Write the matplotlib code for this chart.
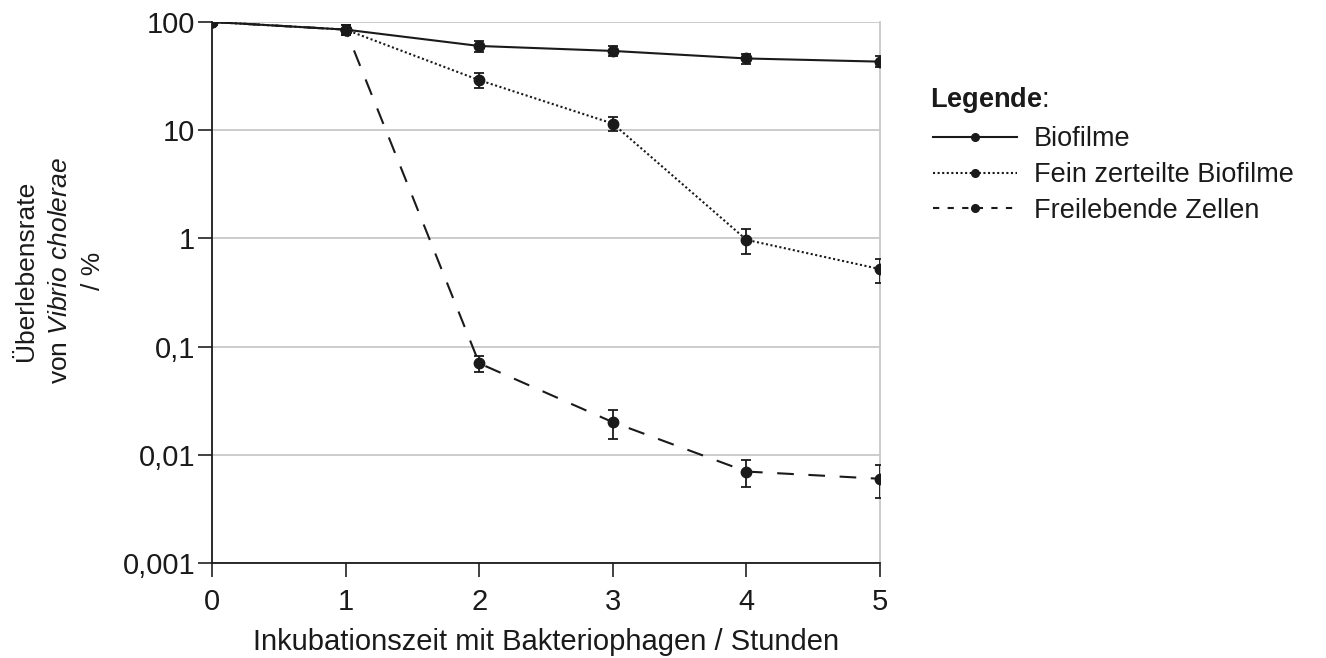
import matplotlib
matplotlib.use("Agg")
import matplotlib.pyplot as plt
from matplotlib.lines import Line2D

plt.rcParams['font.family'] = ['Liberation Sans', 'DejaVu Sans']
plt.rcParams['mathtext.fontset'] = 'custom'
plt.rcParams['mathtext.rm'] = 'Liberation Sans'
plt.rcParams['mathtext.it'] = 'Liberation Sans:italic'
plt.rcParams['mathtext.bf'] = 'Liberation Sans:bold'

# data
stunden = [0, 1, 2, 3, 4, 5]
biofilme = [100, 85, 60, 54, 46, 43]
biofilme_err = [0, 9, 7, 6, 5, 5]
fein = [100, 85, 29, 11.5, 0.97, 0.52]
fein_err = [0, 9, 4.5, 1.6, 0.25, 0.13]
frei = [100, 85, 0.07, 0.02, 0.007, 0.006]
frei_err = [0, 9, 0.012, 0.006, 0.002, 0.002]

y_ticks = [0.001, 0.01, 0.1, 1, 10, 100]
y_labels = ["0,001", "0,01", "0,1", "1", "10", "100"]

dunkel = '#1a1a1a'

fig = plt.figure(figsize=(13.26, 6.58), dpi=100)
ax = fig.add_axes([0.1599, 0.1444, 0.5038, 0.8222])

stil = dict(color=dunkel, marker='o', markersize=7.5, capsize=3.5,
            elinewidth=1.3, capthick=1.3, linewidth=1.5)
ax.errorbar(stunden, biofilme, yerr=biofilme_err, linestyle='-', zorder=4, **stil)
ax.errorbar(stunden, fein, yerr=fein_err, linestyle=(0, (1, 1.2)), zorder=3, **stil)
ax.errorbar(stunden, frei, yerr=frei_err, linestyle=(0, (8, 7)), zorder=3, **stil)

ax.set_yscale('log')
ax.set_ylim(0.001, 100)
ax.set_xlim(0, 5)
ax.set_yticks(y_ticks)
ax.set_yticklabels(y_labels)
ax.minorticks_off()
ax.set_xticks(stunden)
ax.yaxis.grid(True, color='#c8c8c8', linewidth=1.3, zorder=0)
ax.set_axisbelow(True)

ax.spines['top'].set_visible(False)
ax.spines['right'].set_color('#c8c8c8')
ax.spines['right'].set_linewidth(1.3)
for s in ['left', 'bottom']:
    ax.spines[s].set_color(dunkel)
    ax.spines[s].set_linewidth(1.3)
ax.tick_params(axis='both', direction='out', length=10, width=1.3,
               color='#333333', labelsize=21, labelcolor=dunkel)
ax.tick_params(axis='x', pad=8)
ax.tick_params(axis='y', pad=2)

ax.set_xlabel("Inkubationszeit mit Bakteriophagen / Stunden", fontsize=21,
              color=dunkel, labelpad=9)
ax.set_ylabel("Überlebensrate\nvon $\\mathit{Vibrio\\ cholerae}$\n/ %", fontsize=19,
              color=dunkel, linespacing=1.5)
ax.yaxis.set_label_coords(-0.16, 0.54)

# legend
fig.text(0.7014, 0.848, "$\\mathbf{Legende}$:", fontsize=19.5, color=dunkel, va='center')
handles = [
    Line2D([], [], color=dunkel, marker='o', markersize=5.5, linestyle='-', linewidth=1.5),
    Line2D([], [], color=dunkel, marker='o', markersize=5.5, linestyle=(0, (1, 1.2)), linewidth=1.5),
    Line2D([], [], color=dunkel, marker='o', markersize=5.5, linestyle=(0, (3, 4)), linewidth=1.5),
]
namen = ["Biofilme", "Fein zerteilte Biofilme", "Freilebende Zellen"]
fig.legend(handles, namen, loc='upper left', bbox_to_anchor=(0.685, 0.845),
           frameon=False, fontsize=19.5, handlelength=3.13, handletextpad=0.6,
           labelspacing=0.36, labelcolor=dunkel)

fig.savefig("out.png", dpi=100)
